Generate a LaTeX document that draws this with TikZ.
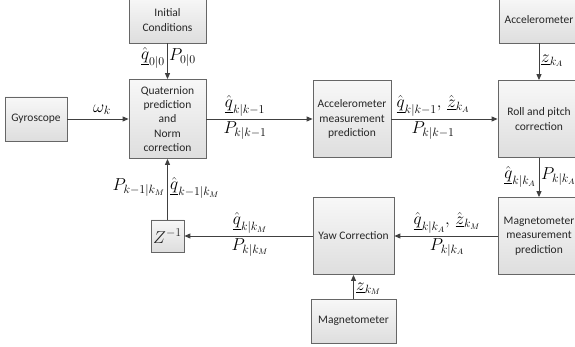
\documentclass[tikz,border=0pt]{standalone}
\usepackage{fontspec}
\setmainfont{Carlito}
\usetikzlibrary{arrows.meta}
\begin{document}
\begin{tikzpicture}[x=1pt,y=-1pt,
  blk/.style={draw=black!60, line width=0.8pt, top color=white!97!black, bottom color=black!13,
    align=center, inner sep=2pt, font=\fontsize{11.5}{14.3}\selectfont, text=black!85},
  con/.style={draw=black!75, line width=0.9pt, -{Triangle[length=6pt,width=5pt]}},
  lab/.style={font=\fontsize{17}{19}\selectfont, inner sep=0pt}]
\useasboundingbox (0,0) rectangle (575,347);
\node[blk, minimum width=77pt, minimum height=46pt] (init) at (167.5,20) {Initial\\Conditions};
\node[blk, minimum width=77pt, minimum height=79pt] (quat) at (167.5,119) {Quaternion\\prediction\\and\\Norm\\correction};
\node[blk, minimum width=62pt, minimum height=44pt] (gyro) at (36,119) {Gyroscope};
\node[blk, minimum width=78pt, minimum height=77pt] (accp) at (352,119) {Accelerometer\\measurement\\prediction};
\node[blk, minimum width=82pt, minimum height=77pt] (roll) at (539,119) {Roll and pitch\\correction};
\node[blk, minimum width=80pt, minimum height=46pt] (acc) at (539,20) {Accelerometer};
\node[blk, minimum width=33pt, minimum height=32pt, inner sep=0pt, font=\fontsize{17}{19}\selectfont] (zinv) at (167.5,236) {$Z^{-1}$};
\node[blk, minimum width=81pt, minimum height=77pt] (yaw) at (353.5,236) {Yaw Correction};
\node[blk, minimum width=82pt, minimum height=77pt] (magp) at (539,236) {Magnetometer\\measurement\\prediction};
\node[blk, minimum width=85pt, minimum height=44pt] (mag) at (353.5,321) {Magnetometer};

\draw[con] (gyro) -- (quat);
\draw[con] (init) -- (quat);
\draw[con] (quat) -- (accp);
\draw[con] (accp) -- (roll);
\draw[con] (acc) -- (roll);
\draw[con] (roll) -- (magp);
\draw[con] (magp) -- (yaw);
\draw[con] (yaw) -- (zinv);
\draw[con] (mag) -- (yaw);
\draw[con] (zinv) -- (quat);

\node[lab, anchor=south] (lw) at (102,115) {$\omega_k$};
\node[lab, anchor=east] (l0a) at (165,58) {$\hat{\underline{q}}_{0|0}$};
\node[lab, anchor=west] (l0b) at (169,58) {$P_{0|0}$};
\node[lab, anchor=south] (l1a) at (245,117) {$\hat{\underline{q}}_{k|k-1}$};
\node[lab, anchor=north] (l1b) at (245,121) {$P_{k|k-1}$};
\node[lab, anchor=south] (l2a) at (433,117) {$\hat{\underline{q}}_{k|k-1},\,\hat{\underline{z}}_{k_A}$};
\node[lab, anchor=north] (l2b) at (433,121) {$P_{k|k-1}$};
\node[lab, anchor=west] (lza) at (541,61) {$\underline{z}_{k_A}$};
\node[lab, anchor=east] (l3a) at (536,177) {$\hat{\underline{q}}_{k|k_A}$};
\node[lab, anchor=west] (l3b) at (541,177) {$P_{k|k_A}$};
\node[lab, anchor=south] (l4a) at (447,234) {$\hat{\underline{q}}_{k|k_A},\,\hat{\underline{z}}_{k_M}$};
\node[lab, anchor=north] (l4b) at (447,238) {$P_{k|k_A}$};
\node[lab, anchor=south] (l5a) at (250,234) {$\hat{\underline{q}}_{k|k_M}$};
\node[lab, anchor=north] (l5b) at (250,238) {$P_{k|k_M}$};
\node[lab, anchor=west] (lzm) at (356,289) {$\underline{z}_{k_M}$};
\node[lab, anchor=east] (l6a) at (165,188) {$P_{k-1|k_M}$};
\node[lab, anchor=west] (l6b) at (170,188) {$\hat{\underline{q}}_{k-1|k_M}$};
\end{tikzpicture}
\end{document}
